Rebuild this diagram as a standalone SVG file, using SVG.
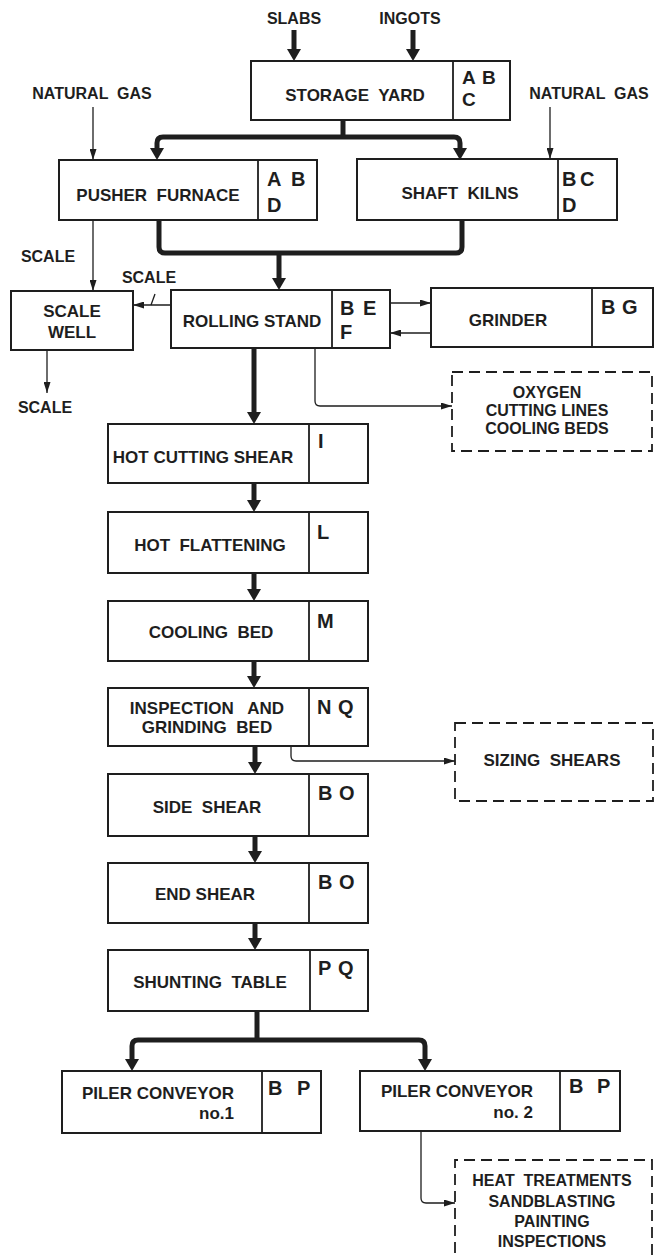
<svg xmlns="http://www.w3.org/2000/svg" width="655" height="1259" viewBox="0 0 655 1259" xml:space="preserve">
<style>
.box{fill:#fff;stroke:#1e1e1e;stroke-width:2}
.dv{stroke:#1e1e1e;stroke-width:1.8}
.dash{fill:none;stroke:#1e1e1e;stroke-width:1.8;stroke-dasharray:11 6}
.thick{fill:none;stroke:#1e1e1e;stroke-width:5}
.thin{fill:none;stroke:#1e1e1e;stroke-width:1.3}
text{font-family:"Liberation Sans",Arial,sans-serif;font-weight:bold;fill:#1e1e1e;white-space:pre}
.lbl{font-size:17px;text-anchor:middle}
.sm{font-size:16px;text-anchor:middle}
.code{font-size:20px}
.end{font-size:17px;text-anchor:end}
</style>
<defs>
<marker id="ah" viewBox="0 0 12 14" refX="2" refY="7" markerWidth="12" markerHeight="14" markerUnits="userSpaceOnUse" orient="auto-start-reverse"><path d="M0,0 L12,7 L0,14 z" fill="#1e1e1e"/></marker>
<marker id="at" viewBox="0 0 11 7" refX="11" refY="3.5" markerWidth="11" markerHeight="7" markerUnits="userSpaceOnUse" orient="auto"><path d="M0,0 L11,3.5 L0,7 z" fill="#1e1e1e"/></marker>
</defs>
<rect width="655" height="1259" fill="#fff"/>

<g id="labels">
<text class="sm" x="294" y="24">SLABS</text>
<text class="sm" x="410" y="24">INGOTS</text>
<text class="sm" x="92" y="99">NATURAL  GAS</text>
<text class="sm" x="589" y="99">NATURAL  GAS</text>
<text class="sm" x="48" y="262">SCALE</text>
<text class="sm" x="149" y="283">SCALE</text>
<text class="sm" x="45" y="413">SCALE</text>
</g>

<g id="connectors">
<path class="thick" d="M294,30 V51" marker-end="url(#ah)"/>
<path class="thick" d="M413,30 V51" marker-end="url(#ah)"/>
<path class="thick" d="M343,120 V137"/>
<path class="thick" d="M157,150 V143 Q157,137 163,137 H454 Q460,137 460,143 V150" marker-start="url(#ah)" marker-end="url(#ah)"/>
<path class="thick" d="M159,220 V247 Q159,253 165,253 H456 Q462,253 462,247 V220"/>
<path class="thick" d="M279,253 V280" marker-end="url(#ah)"/>
<path class="thick" d="M254,348 V414" marker-end="url(#ah)"/>
<path class="thick" d="M254,483 V502" marker-end="url(#ah)"/>
<path class="thick" d="M254,573 V591" marker-end="url(#ah)"/>
<path class="thick" d="M254,661 V678" marker-end="url(#ah)"/>
<path class="thick" d="M255,746 V764" marker-end="url(#ah)"/>
<path class="thick" d="M255,836 V853" marker-end="url(#ah)"/>
<path class="thick" d="M255,923 V940" marker-end="url(#ah)"/>
<path class="thick" d="M257,1011 V1040"/>
<path class="thick" d="M132,1061 V1046 Q132,1040 138,1040 H419 Q425,1040 425,1046 V1061" marker-start="url(#ah)" marker-end="url(#ah)"/>
<path class="thin" d="M93,107 V160" marker-end="url(#at)"/>
<path class="thin" d="M550,107 V159" marker-end="url(#at)"/>
<path class="thin" d="M93,220 V291" marker-end="url(#at)"/>
<path class="thin" d="M171,305 H133" marker-end="url(#at)"/>
<path class="thin" d="M155,294 L151,305"/>
<path class="thin" d="M47,350 V393" marker-end="url(#at)"/>
<path class="thin" d="M390,303 H431" marker-end="url(#at)"/>
<path class="thin" d="M431,333 H390" marker-end="url(#at)"/>
<path class="thin" d="M315,348 V401 Q315,406 320,406 H452" marker-end="url(#at)"/>
<path class="thin" d="M291,746 V756 Q291,761 296,761 H455" marker-end="url(#at)"/>
<path class="thin" d="M421,1131 V1198 Q421,1203 426,1203 H455" marker-end="url(#at)"/>
</g>

<g id="storage-yard">
<rect class="box" x="251" y="61" width="259" height="59"/>
<line class="dv" x1="453" y1="61" x2="453" y2="120"/>
<text class="lbl" x="355" y="101">STORAGE  YARD</text>
<text class="code" x="462" y="84" style="font-size:19px">A<tspan x="482">B</tspan></text>
<text class="code" x="462" y="106" style="font-size:19px">C</text>
</g>

<g id="pusher-furnace">
<rect class="box" x="59" y="160" width="258" height="60"/>
<line class="dv" x1="258" y1="160" x2="258" y2="220"/>
<text class="lbl" x="158" y="201">PUSHER  FURNACE</text>
<text class="code" x="267" y="186">A<tspan x="291">B</tspan></text>
<text class="code" x="267" y="212">D</text>
</g>

<g id="shaft-kilns">
<rect class="box" x="357" y="159" width="260" height="61"/>
<line class="dv" x1="558" y1="159" x2="558" y2="220"/>
<text class="lbl" x="460" y="199">SHAFT  KILNS</text>
<text class="code" x="562" y="186">B<tspan x="580">C</tspan></text>
<text class="code" x="562" y="212">D</text>
</g>

<g id="scale-well">
<rect class="box" x="11" y="291" width="122" height="59"/>
<text class="lbl" x="72" y="317">SCALE</text>
<text class="lbl" x="72" y="338">WELL</text>
</g>

<g id="rolling-stand">
<rect class="box" x="171" y="290" width="219" height="58"/>
<line class="dv" x1="332" y1="290" x2="332" y2="348"/>
<text class="lbl" x="252" y="327">ROLLING STAND</text>
<text class="code" x="340" y="315">B<tspan x="363">E</tspan></text>
<text class="code" x="340" y="339">F</text>
</g>

<g id="grinder">
<rect class="box" x="431" y="288" width="222" height="59"/>
<line class="dv" x1="592" y1="288" x2="592" y2="347"/>
<text class="lbl" x="508" y="326">GRINDER</text>
<text class="code" x="601" y="314">B<tspan x="622">G</tspan></text>
</g>

<g id="oxygen-cutting">
<rect class="dash" x="452" y="372" width="200" height="79"/>
<text class="sm" x="547" y="398">OXYGEN</text>
<text class="sm" x="547" y="416">CUTTING LINES</text>
<text class="sm" x="547" y="434">COOLING BEDS</text>
</g>

<g id="hot-cutting-shear">
<rect class="box" x="108" y="424" width="260" height="59"/>
<line class="dv" x1="309" y1="424" x2="309" y2="483"/>
<text class="lbl" x="203" y="463">HOT CUTTING SHEAR</text>
<text class="code" x="318" y="448">I</text>
</g>

<g id="hot-flattening">
<rect class="box" x="108" y="512" width="260" height="61"/>
<line class="dv" x1="309" y1="512" x2="309" y2="573"/>
<text class="lbl" x="210" y="551">HOT  FLATTENING</text>
<text class="code" x="317" y="539">L</text>
</g>

<g id="cooling-bed">
<rect class="box" x="108" y="601" width="260" height="60"/>
<line class="dv" x1="309" y1="601" x2="309" y2="661"/>
<text class="lbl" x="211" y="638">COOLING  BED</text>
<text class="code" x="317" y="628">M</text>
</g>

<g id="inspection-grinding-bed">
<rect class="box" x="108" y="688" width="260" height="58"/>
<line class="dv" x1="309" y1="688" x2="309" y2="746"/>
<text class="lbl" x="207" y="714">INSPECTION   AND</text>
<text class="lbl" x="207" y="733">GRINDING  BED</text>
<text class="code" x="317" y="714">N<tspan x="338">Q</tspan></text>
</g>

<g id="sizing-shears">
<rect class="dash" x="455" y="723" width="198" height="78"/>
<text class="lbl" x="552" y="766">SIZING  SHEARS</text>
</g>

<g id="side-shear">
<rect class="box" x="108" y="774" width="260" height="62"/>
<line class="dv" x1="309" y1="774" x2="309" y2="836"/>
<text class="lbl" x="207" y="813">SIDE  SHEAR</text>
<text class="code" x="318" y="800">B<tspan x="339">O</tspan></text>
</g>

<g id="end-shear">
<rect class="box" x="108" y="863" width="260" height="60"/>
<line class="dv" x1="309" y1="863" x2="309" y2="923"/>
<text class="lbl" x="205" y="900">END SHEAR</text>
<text class="code" x="318" y="889">B<tspan x="339">O</tspan></text>
</g>

<g id="shunting-table">
<rect class="box" x="108" y="950" width="260" height="61"/>
<line class="dv" x1="310" y1="950" x2="310" y2="1011"/>
<text class="lbl" x="210" y="988">SHUNTING  TABLE</text>
<text class="code" x="318" y="975">P<tspan x="338">Q</tspan></text>
</g>

<g id="piler-conveyor-1">
<rect class="box" x="62" y="1071" width="259" height="62"/>
<line class="dv" x1="262" y1="1071" x2="262" y2="1133"/>
<text class="end" x="234" y="1099">PILER CONVEYOR</text>
<text class="end" x="234" y="1119">no.1</text>
<text class="code" x="268" y="1095">B<tspan x="297">P</tspan></text>
</g>

<g id="piler-conveyor-2">
<rect class="box" x="360" y="1071" width="260" height="60"/>
<line class="dv" x1="560" y1="1071" x2="560" y2="1131"/>
<text class="end" x="533" y="1097">PILER CONVEYOR</text>
<text class="end" x="533" y="1118">no. 2</text>
<text class="code" x="569" y="1093">B<tspan x="597">P</tspan></text>
</g>

<g id="heat-treatments">
<path class="dash" d="M455,1270 V1160 H652 V1270"/>
<text class="sm" x="552" y="1186">HEAT  TREATMENTS</text>
<text class="sm" x="552" y="1207">SANDBLASTING</text>
<text class="sm" x="552" y="1227">PAINTING</text>
<text class="sm" x="552" y="1247">INSPECTIONS</text>
</g>
</svg>
